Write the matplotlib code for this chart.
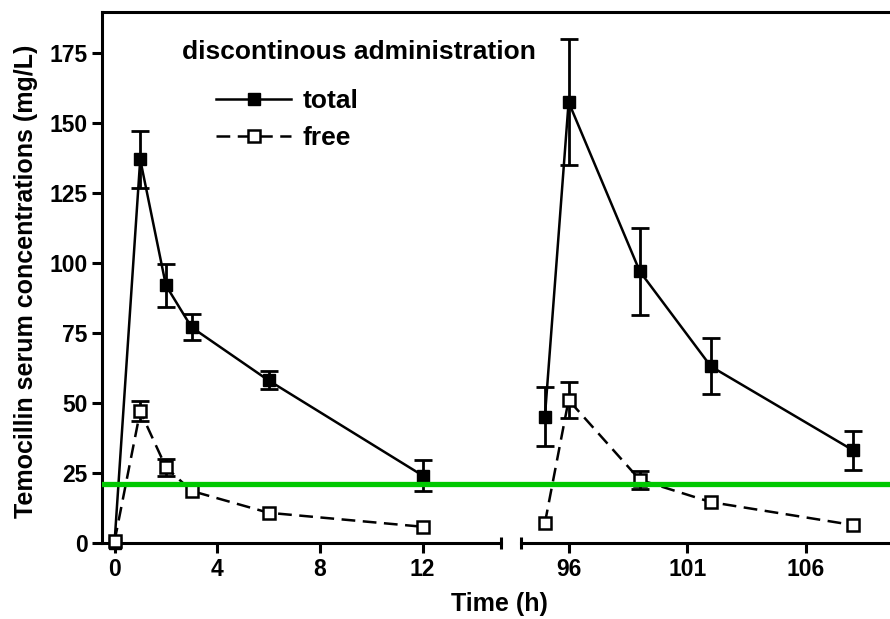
import numpy as np
import matplotlib
matplotlib.use('Agg')
import matplotlib.pyplot as plt

plt.rcParams['font.family'] = ['Liberation Sans', 'DejaVu Sans']
plt.rcParams['font.weight'] = 'bold'

# ---- data ----
t_left = [0, 1, 2, 3, 6, 12]
total_left = [0, 137, 92, 77, 58, 24]
total_left_err = [0, 10.2, 7.6, 4.6, 3.2, 5.5]
free_left = [0.5, 47, 27, 18.5, 10.7, 5.7]
free_left_err = [0, 3.5, 3.0, 0, 0, 0]

t_right = [95, 96, 99, 102, 108]
total_right = [45, 157.5, 97, 63, 33]
total_right_err = [10.5, 22.5, 15.5, 10, 7]
free_right = [7, 51, 22.5, 14.5, 6.3]
free_right_err = [0, 6.5, 3.3, 0, 0]

threshold = 21
yticks = [0, 25, 50, 75, 100, 125, 150, 175]
xticks_left = [0, 4, 8, 12]
xticks_right = [96, 101, 106]

W, H = 890, 619
fig = plt.figure(figsize=(W / 100, H / 100), dpi=100)

y0, y1 = 542.7, 12.0
bottom = 1 - y0 / H
height = (y0 - y1) / H
ax_l = fig.add_axes([101.7 / W, bottom, (500.7 - 101.7) / W, height])
ax_r = fig.add_axes([520.7 / W, bottom, (890 - 520.7) / W, height])
ax_f = fig.add_axes([101.7 / W, bottom, (890 - 101.7) / W, height], zorder=5)

lw = 1.8
spine_lw = 2.2


def draw(ax, t, tot, tot_err, fr, fr_err):
    t = np.asarray(t, float)
    for y, e in ((tot, tot_err), (fr, fr_err)):
        y = np.asarray(y, float)
        e = np.asarray(e, float)
        m = e > 0
        ax.errorbar(t[m], y[m], yerr=e[m], fmt='none', ecolor='k',
                    elinewidth=2.0, capsize=6.8, capthick=2.0, zorder=2,
                    clip_on=False)
    ax.plot(t, tot, '-', color='k', lw=lw, marker='s', ms=8.8,
            mfc='k', mec='k', zorder=3, clip_on=False, label='total')
    ax.plot(t, fr, color='k', lw=lw, ls=(0, (5.5, 3)), marker='s', ms=8.8,
            mfc='white', mec='k', mew=1.8, zorder=4, clip_on=False,
            label='free')


draw(ax_l, t_left, total_left, total_left_err, free_left, free_left_err)
draw(ax_r, t_right, total_right, total_right_err, free_right, free_right_err)

ylim = (0, 189.7)
for ax in (ax_l, ax_r):
    ax.set_ylim(*ylim)
    ax.set_facecolor('none')
    ax.spines['top'].set_visible(False)
    ax.spines['right'].set_visible(False)
    ax.spines['bottom'].set_linewidth(spine_lw)
    ax.spines['left'].set_linewidth(spine_lw)
    ax.tick_params(axis='x', which='major', length=7, width=spine_lw,
                   labelsize=16.5, pad=4)
    ax.tick_params(axis='x', which='minor', direction='inout', length=8.5,
                   width=spine_lw)
    ax.tick_params(axis='y', length=7.2, width=spine_lw, labelsize=16.5,
                   pad=3)

ax_l.set_xlim(-0.5, 15.04)
ax_l.set_xticks(xticks_left)
ax_l.set_xticks([15.04], minor=True)
ax_l.set_yticks(yticks)

ax_r.set_xlim(93.98, 109.55)
ax_r.set_xticks(xticks_right)
ax_r.set_xticks([93.98], minor=True)
ax_r.spines['left'].set_visible(False)
ax_r.set_yticks([])

# overlay: top frame and threshold line across the break
ax_f.set_facecolor('none')
ax_f.set_ylim(*ylim)
ax_f.set_xlim(0, 1)
for s in ('left', 'right', 'bottom'):
    ax_f.spines[s].set_visible(False)
ax_f.spines['top'].set_linewidth(spine_lw)
ax_f.set_xticks([])
ax_f.set_yticks([])
ax_f.axhline(threshold, color='#00c800', lw=3.8)

fig.text(182 / W, 1 - 59.3 / H, 'discontinous administration', fontsize=19,
         fontweight='bold', ha='left', va='baseline')
ax_l.legend(loc='upper left', bbox_to_anchor=(216 / W, 1 - 89 / H),
            bbox_transform=fig.transFigure, frameon=False, fontsize=19,
            handlelength=2.85, handletextpad=0.42, borderpad=0,
            borderaxespad=0, labelspacing=0.5)

fig.text(499 / W, 1 - 611.5 / H, 'Time (h)', fontsize=18, fontweight='bold',
         ha='center', va='baseline')
fig.text(26 / W, 1 - 281.4 / H, 'Temocillin serum concentrations (mg/L)',
         fontsize=18, fontweight='bold', rotation=90, ha='center',
         va='center')

fig.savefig('out.png', dpi=100)
